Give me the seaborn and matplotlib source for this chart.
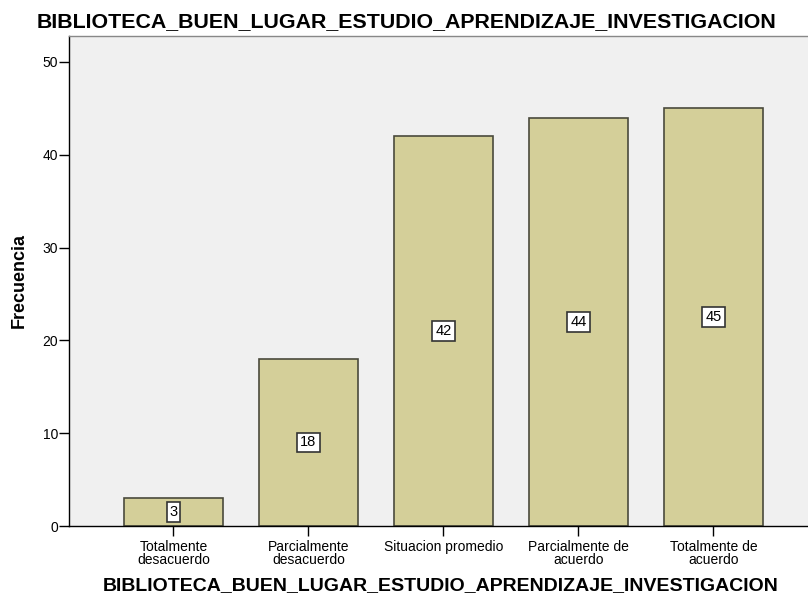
import matplotlib
matplotlib.use("Agg")
import matplotlib.pyplot as plt
import seaborn as sns
import pandas as pd

categories = ["Totalmente\ndesacuerdo", "Parcialmente\ndesacuerdo", "Situacion promedio",
              "Parcialmente de\nacuerdo", "Totalmente de\nacuerdo"]
frecuencia = [3, 18, 42, 44, 45]
yticks = [0, 10, 20, 30, 40, 50]
title = "BIBLIOTECA_BUEN_LUGAR_ESTUDIO_APRENDIZAJE_INVESTIGACION"

sns.set_theme(style="white")
plt.rcParams['font.family'] = ['Liberation Sans', 'DejaVu Sans']
plt.rcParams['text.color'] = 'black'
plt.rcParams['xtick.color'] = 'black'
plt.rcParams['ytick.color'] = 'black'
plt.rcParams['axes.labelcolor'] = 'black'

df = pd.DataFrame({"cat": categories, "freq": frecuencia})

fig = plt.figure(figsize=(8.08, 5.94), dpi=100)
fig.patch.set_facecolor("white")
ax = fig.add_axes([69/808, 1-526/594, 1-69/808, (526-36)/594])
ax.set_facecolor("#F0F0F0")

sns.barplot(data=df, x="cat", y="freq", color="#D4CF99", saturation=1,
            width=0.74, edgecolor="#4A4A3C", linewidth=1.2, ax=ax)

for i, v in enumerate(frecuencia):
    ax.text(i, v/2, str(v), ha="center", va="center", fontsize=10.5, color="black",
            bbox=dict(boxstyle="square,pad=0.2", fc="white", ec="#333333", lw=1.2))

ax.set_xlim(-0.774, 4.70)
ax.set_ylim(0, 52.8)
ax.set_yticks(yticks)
ax.tick_params(axis="y", length=7, width=1, labelsize=10, pad=1, left=True)
ax.tick_params(axis="x", length=7, width=1, labelsize=10, pad=3, bottom=True)
for lab in ax.get_xticklabels():
    lab.set_linespacing(0.9)

for s in ["left", "bottom"]:
    ax.spines[s].set_color("black")
    ax.spines[s].set_linewidth(1)
ax.spines["top"].set_color("#888888")
ax.spines["top"].set_linewidth(1)
ax.spines["right"].set_visible(False)

ax.set_xlabel("")
ax.set_ylabel("")
fig.text(19/808, 1-280/594, "Frecuencia", rotation=90, ha="center", va="center",
         fontsize=13, fontweight="bold")
fig.text(441/808, 1-590/594, title, ha="center", va="baseline", fontsize=14, fontweight="bold")
fig.text(407/808, 1-27/594, title, ha="center", va="baseline", fontsize=15.4, fontweight="bold")

fig.savefig("out.png", dpi=100)
